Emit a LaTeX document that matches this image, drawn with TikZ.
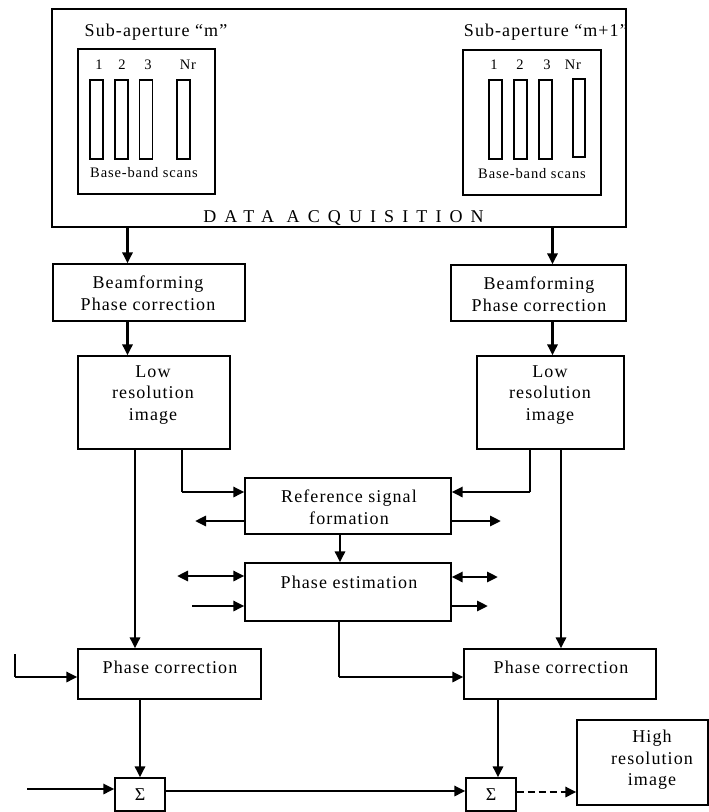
\documentclass[tikz,border=0pt]{standalone}
\usepackage{fontspec}
\setmainfont{Liberation Serif}
\newfontfamily\lsp[LetterSpace=6]{Liberation Serif}
\newfontfamily\wsp[LetterSpace=45]{Liberation Serif}
\usetikzlibrary{arrows.meta}
\tikzset{
  blk/.style={draw, line width=1.2pt, inner sep=0pt},
  colbox/.style={draw, line width=1.1pt, inner sep=0pt, minimum width=13pt, minimum height=79pt},
  txt/.style={inner sep=0pt, align=center, font=\fontsize{18}{21.5}\selectfont\lsp},
  stxt/.style={inner sep=0pt, align=center, font=\fontsize{14.5}{17}\selectfont\lsp},
  arr/.style={line width=2.8pt, -{Triangle[length=11pt,width=10pt]}},
  darr/.style={line width=2.8pt, {Triangle[length=11pt,width=10pt]}-{Triangle[length=11pt,width=10pt]}},
  ln/.style={line width=1.3pt}
}
\begin{document}
\begin{tikzpicture}[x=1pt,y=-1pt]
\useasboundingbox (0,0) rectangle (709,812);

% Data acquisition block
\node[blk, minimum width=574pt, minimum height=218pt] (acq) at (339,118) {};
\node[txt, font=\fontsize{18}{21.5}\selectfont\wsp] (acqt) at (343.5,218) {DATA ACQUISITION};

\node[txt] (subLt) at (156,32) {Sub-aperture “m”};
\node[txt, anchor=east] (subRt) at (628,32) {Sub-aperture “m+1”};

\node[blk, minimum width=137pt, minimum height=145pt] (subL) at (146.5,121.5) {};
\node[blk, minimum width=138pt, minimum height=145pt] (subR) at (532,122.5) {};

\node[colbox] (cL1) at (96.5,119.5) {};
\node[colbox] (cL2) at (121.5,119.5) {};
\node[colbox] (cL3) at (146,119.5) {};
\node[colbox] (cL4) at (183.5,119.5) {};
\node[colbox] (cR1) at (495.5,119.5) {};
\node[colbox] (cR2) at (520.5,119.5) {};
\node[colbox] (cR3) at (545.5,119.5) {};
\node[colbox, minimum width=12pt, minimum height=78pt] (cR4) at (579,118) {};

\node[stxt] (nL1) at (99,65) {1};
\node[stxt] (nL2) at (122,65) {2};
\node[stxt] (nL3) at (148,65) {3};
\node[stxt] (nL4) at (188,65) {Nr};
\node[stxt] (nR1) at (494,65) {1};
\node[stxt] (nR2) at (520,65) {2};
\node[stxt] (nR3) at (547,65) {3};
\node[stxt] (nR4) at (573,65) {Nr};

\node[stxt] (bbL) at (144,173) {Base-band scans};
\node[stxt] (bbR) at (532,174) {Base-band scans};

% Beamforming
\node[blk, minimum width=192pt, minimum height=57pt] (bfL) at (149,292.5) {};
\node[txt] (bfLt) at (148,293) {Beamforming\\Phase correction};
\node[blk, minimum width=175pt, minimum height=56pt] (bfR) at (538.5,293) {};
\node[txt] (bfRt) at (539,294) {Beamforming\\Phase correction};

% Low resolution
\node[blk, minimum width=152pt, minimum height=93pt] (lrL) at (154,402.5) {};
\node[txt] (lrLt) at (153,395) {Low\\resolution\\image};
\node[blk, minimum width=147pt, minimum height=93pt] (lrR) at (550.5,402.5) {};
\node[txt] (lrRt) at (550,395) {Low\\resolution\\image};

% Reference signal formation
\node[blk, minimum width=206pt, minimum height=56pt] (ref) at (348,506) {};
\node[txt] (reft) at (349,507) {Reference signal\\formation};

% Phase estimation
\node[blk, minimum width=206pt, minimum height=58pt] (pe) at (348,592) {};
\node[txt] (pet) at (349,582) {Phase estimation};

% Phase correction
\node[blk, minimum width=183pt, minimum height=50pt] (pcL) at (169.5,674) {};
\node[txt] (pcLt) at (170,667) {Phase correction};
\node[blk, minimum width=192pt, minimum height=50pt] (pcR) at (560,674) {};
\node[txt] (pcRt) at (561,667) {Phase correction};

% Sums
\node[blk, minimum width=50pt, minimum height=33pt, font=\fontsize{18}{21.5}\selectfont] (sigL) at (140,794.5) {Σ};
\node[blk, minimum width=50pt, minimum height=33pt, font=\fontsize{18}{21.5}\selectfont] (sigR) at (491,794.5) {Σ};

% High resolution
\node[blk, minimum width=131pt, minimum height=85pt] (hr) at (642.5,762.5) {};
\node[txt] (hrt) at (652,760) {High\\resolution\\image};

% helper coordinates
\coordinate (xa) at (127.5,0);
\coordinate (xb) at (552.5,0);
\coordinate (xd) at (135,0);
\coordinate (xf) at (561,0);
\coordinate (xg) at (340,0);
\coordinate (xh) at (140,0);
\coordinate (xi) at (498,0);
\coordinate (j1) at (182,492);
\coordinate (j2) at (530,492);
\coordinate (j3) at (339,677);
\coordinate (j4) at (15,677);
\coordinate (o7) at (15,654);
\coordinate (o1) at (195,521);
\coordinate (o2) at (501,521);
\coordinate (o3) at (177,576);
\coordinate (o4) at (192,606);
\coordinate (o5) at (498,577);
\coordinate (o6) at (488,606);
\coordinate (o8) at (27,789);
\coordinate (j5) at (0,791);
\coordinate (j6) at (0,792);

% connectors
\draw[arr] (acq.south -| xa) -- (bfL.north -| xa);
\draw[arr] (acq.south -| xb) -- (bfR.north -| xb);
\draw[arr] (bfL.south -| xa) -- (lrL.north -| xa);
\draw[arr] (bfR.south -| xb) -- (lrR.north -| xb);
\draw[arr] (lrL.south -| xd) -- (pcL.north -| xd);
\draw[arr] (lrR.south -| xf) -- (pcR.north -| xf);

\draw[ln] (lrL.south -| j1) -- (j1);
\draw[arr] (j1) -- (j1 -| ref.west);
\draw[ln] (lrR.south -| j2) -- (j2);
\draw[arr] (j2) -- (j2 -| ref.east);

\draw[arr] (o1 -| ref.west) -- (o1);
\draw[arr] (o2 -| ref.east) -- (o2);
\draw[arr] (ref.south -| xg) -- (pe.north -| xg);

\draw[darr] (o3) -- (o3 -| pe.west);
\draw[arr] (o4) -- (o4 -| pe.west);
\draw[darr] (o5 -| pe.east) -- (o5);
\draw[arr] (o6 -| pe.east) -- (o6);

\draw[ln] (pe.south -| j3) -- (j3);
\draw[arr] (j3) -- (j3 -| pcR.west);
\draw[ln] (o7) -- (j4);
\draw[arr] (j4) -- (j4 -| pcL.west);

\draw[arr] (pcL.south -| xh) -- (sigL.north -| xh);
\draw[arr] (pcR.south -| xi) -- (sigR.north -| xi);
\draw[arr] (o8) -- (o8 -| sigL.west);
\draw[arr] (sigL.east |- j5) -- (sigR.west |- j5);
\draw[arr, dash pattern=on 7pt off 4pt] (sigR.east |- j6) -- (hr.west |- j6);
\end{tikzpicture}
\end{document}
